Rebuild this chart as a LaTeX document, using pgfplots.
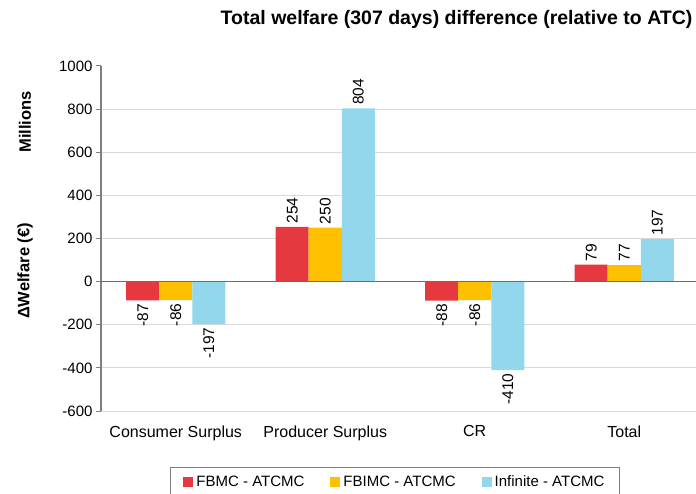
\documentclass[border=0pt]{standalone}
\usepackage{pgfplots}
\pgfplotsset{compat=1.18}
\usepackage{fontspec}
\setmainfont{Liberation Sans}
\definecolor{cred}{HTML}{E5383F}
\definecolor{cyel}{HTML}{FFC000}
\definecolor{cblu}{HTML}{92D7EB}
\definecolor{gridc}{HTML}{D9D9D9}
\definecolor{axc}{HTML}{7F7F7F}
\begin{document}
\begin{tikzpicture}
\begin{axis}[
  at={(101pt,82pt)}, anchor=south west,
  scale only axis, width=595pt, height=345pt,
  xmin=-0.5, xmax=3.48, ymin=-600, ymax=1000,
  ybar=0pt, bar width=33pt,
  axis y line*=left, axis x line*=bottom,
  x axis line style={draw=none},
  y axis line style={axc, line width=1.1pt},
  xtick={0,1,2,3},
  xticklabels={Consumer Surplus, Producer Surplus, CR, Total},
  x tick style={draw=none},
  ytick={-600,-400,-200,0,200,400,600,800},
  extra y ticks={1000}, extra y tick style={grid=none},
  extra y tick labels={1000},
  ymajorgrids, grid style={gridc, line width=1pt},
  tick align=outside, major tick length=5pt,
  y tick style={axc, line width=1pt},
  /pgf/number format/assume math mode=true,
  /pgf/number format/1000 sep={},
  yticklabel style={font=\fontsize{15}{18}\selectfont},
  xticklabel style={font=\fontsize{16}{19}\selectfont, yshift=-6pt},
  nodes near coords, nodes near coords align=horizontal,
  every node near coord/.append style={rotate=90, font=\fontsize{15.5}{18}\selectfont, text=black},
  legend style={at={(0.494,-0.163)}, anchor=north, legend columns=3,
    draw=axc, line width=0.9pt, font=\fontsize{15}{18}\selectfont,
    /tikz/every odd column/.append style={column sep=1pt},
    /tikz/every even column/.append style={column sep=24pt},
    inner xsep=13pt, inner ysep=6pt},
  legend image code/.code={\fill[#1] (0pt,-5pt) rectangle (10pt,5pt);},
  clip=false,
]
\addplot[fill=cred, draw=none] coordinates {(0,-87) (1,254) (2,-88) (3,79)};
\addplot[fill=cyel, draw=none] coordinates {(0,-86) (1,250) (2,-86) (3,77)};
\addplot[fill=cblu, draw=none] coordinates {(0,-197) (1,804) (2,-410) (3,197)};
\legend{FBMC - ATCMC, FBIMC - ATCMC, Infinite - ATCMC}
\draw[axc!85!black, line width=1.4pt] (rel axis cs:0,0.375) -- (rel axis cs:1,0.375);
\end{axis}
\node[font=\fontsize{19.5}{22}\selectfont\bfseries, anchor=east] at (696pt,474pt) {Total welfare (307 days) difference (relative to ATC)};
\node[font=\fontsize{16.5}{19}\selectfont\bfseries, rotate=90] at (25pt,371pt) {Millions};
\node[font=\fontsize{16.5}{19}\selectfont\bfseries, rotate=90] at (25pt,222pt) {ΔWelfare (€)};
\pgfresetboundingbox
\path (0pt,0pt) rectangle (696pt,493pt);
\end{tikzpicture}
\end{document}
